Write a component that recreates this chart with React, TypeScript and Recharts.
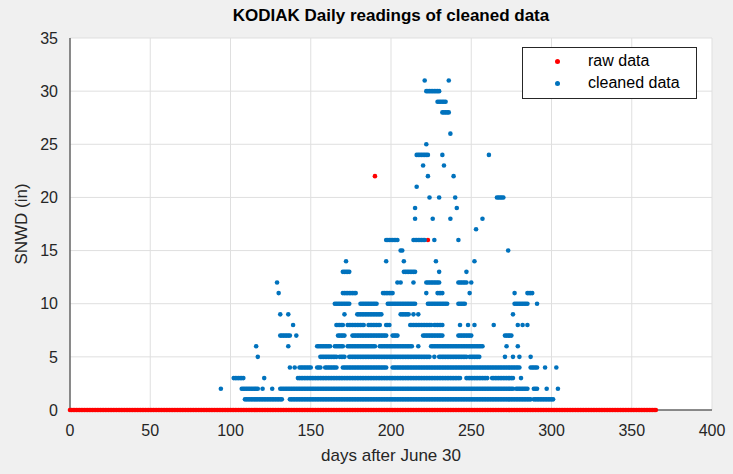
import { ScatterChart, Scatter, XAxis, YAxis, CartesianGrid } from 'recharts'

const xTicks = [0, 50, 100, 150, 200, 250, 300, 350, 400]
const yTicks = [0, 5, 10, 15, 20, 25, 30, 35]

// [snow depth, first day, last day] – runs of consecutive daily readings
const rawSpans: [number, number, number][] = [
  [0, 0, 365],
  [22, 190, 190],
  [16, 223, 223],
]

const cleanedSpans: [number, number, number][] = [
  [31, 221, 221], [31, 236, 236],
  [30, 222, 230],
  [29, 229, 234],
  [28, 232, 236],
  [26, 237, 237],
  [25, 222, 222],
  [24, 216, 223], [24, 232, 232], [24, 261, 261],
  [23, 220, 220], [23, 233, 233],
  [22, 223, 223], [22, 239, 239],
  [21, 216, 216],
  [20, 224, 224], [20, 230, 230], [20, 240, 240], [20, 266, 270],
  [19, 215, 215], [19, 241, 241],
  [18, 215, 215], [18, 226, 226], [18, 237, 237], [18, 257, 257],
  [17, 253, 253],
  [16, 197, 204], [16, 214, 221], [16, 227, 227], [16, 242, 242],
  [15, 206, 207], [15, 273, 273],
  [14, 172, 172], [14, 197, 197], [14, 208, 208], [14, 228, 228], [14, 252, 252],
  [13, 170, 174], [13, 208, 215], [13, 230, 230], [13, 247, 247],
  [12, 129, 129], [12, 204, 204], [12, 206, 206], [12, 214, 214], [12, 222, 230], [12, 242, 247], [12, 250, 250],
  [11, 130, 130], [11, 170, 178], [11, 195, 201], [11, 222, 222], [11, 229, 232], [11, 249, 249], [11, 277, 277], [11, 285, 288],
  [10, 165, 174], [10, 181, 191], [10, 198, 215], [10, 223, 235], [10, 242, 246], [10, 277, 285], [10, 291, 291],
  [9, 131, 131], [9, 136, 136], [9, 171, 171], [9, 179, 194], [9, 206, 211], [9, 214, 214], [9, 217, 217], [9, 276, 276],
  [8, 139, 139], [8, 166, 170], [8, 173, 183], [8, 186, 193], [8, 197, 199], [8, 212, 225], [8, 227, 232],
  [8, 243, 243], [8, 248, 248], [8, 252, 252], [8, 264, 264], [8, 279, 279], [8, 282, 282], [8, 285, 285],
  [7, 131, 137], [7, 141, 141], [7, 167, 171], [7, 176, 197], [7, 201, 204], [7, 220, 232], [7, 242, 250], [7, 271, 275],
  [6, 116, 116], [6, 136, 136], [6, 154, 162], [6, 165, 170], [6, 173, 190], [6, 193, 213], [6, 217, 217],
  [6, 225, 257], [6, 272, 272], [6, 279, 279],
  [5, 117, 117], [5, 156, 166], [5, 168, 171], [5, 174, 224], [5, 227, 227], [5, 230, 247], [5, 249, 255],
  [5, 271, 271], [5, 276, 276], [5, 280, 280], [5, 287, 287],
  [4, 137, 137], [4, 140, 140], [4, 143, 150], [4, 154, 156], [4, 159, 166], [4, 170, 197], [4, 201, 280],
  [4, 287, 291], [4, 296, 296], [4, 303, 303],
  [3, 102, 108], [3, 121, 121], [3, 142, 243], [3, 247, 260], [3, 263, 276], [3, 281, 281],
  [2, 94, 94], [2, 107, 117], [2, 120, 120], [2, 126, 126], [2, 131, 276], [2, 278, 285], [2, 289, 291],
  [2, 297, 297], [2, 304, 304],
  [1, 109, 132], [1, 137, 287], [1, 289, 301],
]

const expand = (spans: [number, number, number][]) => {
  const pts: { day: number; snwd: number }[] = []
  for (const [y, a, b] of spans) {
    for (let d = a; d <= b; d++) pts.push({ day: d, snwd: y })
  }
  return pts
}

const rawData = expand(rawSpans)
const cleanedData = expand(cleanedSpans)

const FONT = '"Liberation Sans", Arial, Helvetica, sans-serif'
const AXIS = '#262626'

const dot = (color: string) => (props: any) => (
  <circle cx={props.cx} cy={props.cy} r={2.3} fill={color} />
)

function LegendBox() {
  return (
    <div
      style={{
        position: 'absolute',
        left: 522,
        top: 47,
        width: 175,
        height: 52,
        border: '1px solid #262626',
        background: '#fff',
        fontSize: 16,
        color: '#000',
        boxSizing: 'border-box',
      }}
    >
      <span style={{ position: 'absolute', left: 32, top: 11, width: 5, height: 5, borderRadius: 3, background: '#ff0000' }} />
      <span style={{ position: 'absolute', left: 65, top: 4 }}>raw data</span>
      <span style={{ position: 'absolute', left: 32, top: 33, width: 5, height: 5, borderRadius: 3, background: '#0072bd' }} />
      <span style={{ position: 'absolute', left: 65, top: 26 }}>cleaned data</span>
    </div>
  )
}

export default function App() {
  return (
    <div style={{ position: 'relative', width: 733, height: 474, background: '#f0f0f0', fontFamily: FONT }}>
      <style>{'body{margin:0}'}</style>
      <ScatterChart
        width={733}
        height={474}
        margin={{ top: 38, right: 21, bottom: 34, left: 10 }}
      >
        <CartesianGrid fill="#fff" stroke="#dfdfdf" />
        <XAxis
          xAxisId="ticksBottom"
          type="number"
          domain={[0, 400]}
          ticks={xTicks}
          height={0}
          mirror
          axisLine={false}
          stroke={AXIS}
          tickSize={5}
          tick={false}
        />
        <XAxis
          type="number"
          dataKey="day"
          domain={[0, 400]}
          ticks={xTicks}
          height={30}
          stroke={AXIS}
          tickLine={false}
          tickMargin={9}
          tick={{ fill: AXIS, fontSize: 16, fontFamily: FONT }}
          interval={0}
        />
        <XAxis xAxisId="top" type="number" orientation="top" domain={[0, 400]} ticks={xTicks}
          height={0} mirror stroke={AXIS} tickSize={5} tick={false} />
        <YAxis
          yAxisId="ticksLeft"
          type="number"
          domain={[0, 35]}
          ticks={yTicks}
          width={0}
          mirror
          axisLine={false}
          stroke={AXIS}
          tickSize={5}
          tick={false}
        />
        <YAxis
          type="number"
          dataKey="snwd"
          domain={[0, 35]}
          ticks={yTicks}
          width={60}
          stroke={AXIS}
          tickLine={false}
          tickMargin={6}
          tick={{ fill: AXIS, fontSize: 16, fontFamily: FONT }}
          interval={0}
        />
        <YAxis yAxisId="right" type="number" orientation="right" domain={[0, 35]} ticks={yTicks}
          width={0} mirror stroke={AXIS} tickSize={5} tick={false} />
        <Scatter name="raw data" data={rawData} shape={dot('#ff0000')} isAnimationActive={false} />
        <Scatter name="cleaned data" data={cleanedData} shape={dot('#0072bd')} isAnimationActive={false} />
      </ScatterChart>
      <div
        style={{
          position: 'absolute', left: 0, width: 782, top: 6, textAlign: 'center',
          fontSize: 17, fontWeight: 'bold', color: '#000',
        }}
      >
        KODIAK Daily readings of cleaned data
      </div>
      <div
        style={{
          position: 'absolute', left: 0, width: 782, top: 446, textAlign: 'center',
          fontSize: 17, color: AXIS,
        }}
      >
        days after June 30
      </div>
      <div
        style={{
          position: 'absolute', left: 22, top: 224, fontSize: 17, color: AXIS,
          transform: 'translate(-50%, -50%) rotate(-90deg)', whiteSpace: 'nowrap',
        }}
      >
        SNWD (in)
      </div>
      <LegendBox />
    </div>
  )
}
